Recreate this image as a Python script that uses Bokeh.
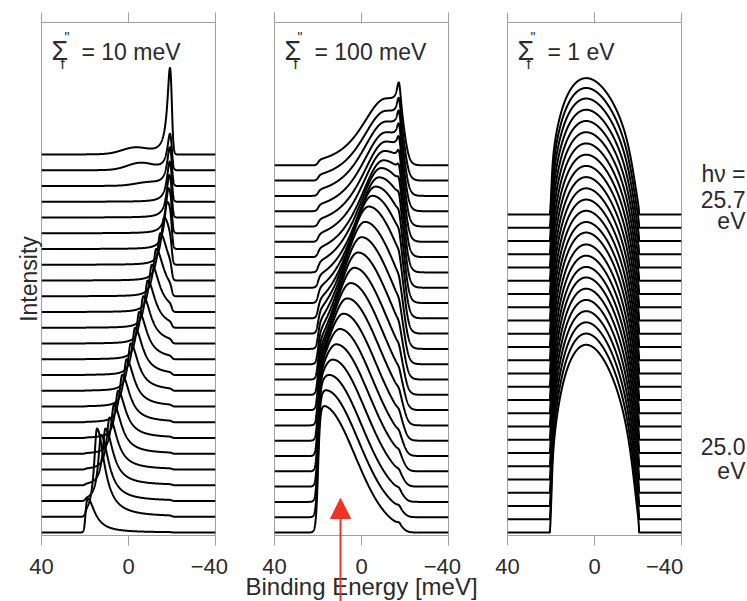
import numpy as np
from bokeh.plotting import figure
from bokeh.models import (Range1d, FixedTicker, Label, Arrow, NormalHead, ColumnDataSource,
                          LinearAxis)
from bokeh.layouts import row, column
from bokeh.embed import file_html
from bokeh.resources import INLINE

# ---------------- values ----------------
x_ticks = [40, 0, -40]
x_tick_labels = ["40", "0", "\u221240\u2007"]
panel_values = ["= 10 meV", "= 100 meV", "= 1 eV"]
hv_top_text = ["h\u03bd =", "25.7", "eV"]
hv_bottom_text = ["25.0", "eV"]
x_label = "Binding Energy [meV]"
y_label = "Intensity"
band_bottom_edge = 20.0     # meV (left cut-off)
band_top_edge = -20.0       # meV (right cut-off)

# panel 1, Sigma''_f = 10 meV  (first entry = lowest curve, 25.0 eV)
p1_peak_pos = [19.0, 14.5, 12.6, 10.6, 8.7, 6.7, 4.8, 2.9, 0.9, -1.0, -3.0, -4.9, -6.8,
               -8.8, -10.7, -12.7, -14.6, -16.4, -17.8, -18.5, -18.9, -19.1, -19.2, -19.3, -19.3]
p1_peak_height = [2.2, 5.6, 4.2, 3.6, 3.3, 3.1, 3.0, 3.0, 3.0, 3.0, 3.0, 3.0, 3.0,
                  3.0, 3.0, 3.0, 3.0, 3.0, 3.0, 2.9, 2.8, 2.7, 2.6, 2.5, 6.0]
p1_bump_pos = [0, 0, 0, 0, 0, 0, 0, 0, 0, 0, 0, 0, 0, 0, 0, 0, 0, 0, 0, 0, 0, 0, -9.0, -5.5, -3.0]
p1_bump_height = [0, 0, 0, 0, 0, 0, 0, 0, 0, 0, 0, 0, 0, 0, 0, 0, 0, 0, 0, 0, 0, 0, 0.2, 0.45, 0.4]

# panel 2, Sigma''_f = 100 meV
p2_hump_pos = [18.0, 16.5, 15.0, 13.3, 11.6, 10.0, 8.3, 6.6, 5.0, 3.3, 1.6, 0.0, -1.6,
               -3.3, -5.0, -6.5, -8.0, -9.0, -10.0, -10.5, -11.0, -11.0, -11.0, -11.0, -11.0]
p2_hump_height = [8.3, 8.3, 8.3, 8.3, 8.3, 8.3, 8.3, 8.3, 8.3, 8.3, 8.3, 8.3, 8.3,
                  8.3, 8.0, 7.6, 7.2, 6.8, 6.3, 5.9, 5.5, 5.1, 4.8, 4.5, 4.3]
p2_edge_height = [0.2, 0.2, 0.2, 0.2, 0.25, 0.25, 0.3, 0.3, 0.3, 0.35, 0.35, 0.4, 0.4,
                  0.5, 0.6, 0.7, 0.8, 0.9, 1.0, 1.2, 1.4, 1.6, 1.7, 1.8, 2.0]

# panel 3, Sigma''_f = 1 eV
p3_dome_height = [13.9, 13.75, 13.6, 13.45, 13.3, 13.15, 13.0, 12.8, 12.65, 12.5, 12.4, 12.2, 12.05,
                  11.9, 11.75, 11.6, 11.45, 11.3, 11.15, 11.0, 10.85, 10.7, 10.55, 10.35, 10.1]

# ---------------- line shapes ----------------
E = np.linspace(-40, 40, 1601)


def window(x, wl, wr):
    return 1.0 / (1.0 + np.exp((x - band_bottom_edge) / wl)) / (1.0 + np.exp(-(x - band_top_edge) / wr))


def asym_lorentz(x, c, g_left, g_right):
    g = np.where(x > c, g_left, g_right)
    return 1.0 / (1.0 + ((x - c) / g) ** 2)


def hump(x, c, g_left, s_right):
    left = (1.0 + (x - c) ** 2 / (2.0 * g_left ** 2)) ** -2
    right = np.exp(-0.5 * ((x - c) / s_right) ** 2)
    return np.where(x > c, left, right)


def dome(x):
    u = x / 20.5
    return np.sqrt(np.clip(1 - u ** 2, 0, None)) * (1 + 0.2 * u)


def panel1_curves():
    xs, ys = [], []
    w = window(E, 0.35, 0.35)
    for i, (c, h, bc, bh) in enumerate(zip(p1_peak_pos, p1_peak_height, p1_bump_pos, p1_bump_height)):
        y = w * (h * asym_lorentz(E, c, 1.6, 4.2) + bh * np.exp(-0.5 * ((E - bc) / 6.0) ** 2))
        xs.append(E)
        ys.append(y + i)
    return xs, ys


def panel2_curves():
    xs, ys = [], []
    w = window(E, 0.5, 1.2)
    for i, (c, h, s) in enumerate(zip(p2_hump_pos, p2_hump_height, p2_edge_height)):
        y = w * (h * hump(E, c, 14.0, 15.0) + s * asym_lorentz(E, -17.3, 1.2, 1.2))
        xs.append(E)
        ys.append(y + i)
    return xs, ys


def panel3_curves():
    xs, ys = [], []
    w = window(E, 0.3, 1.8)
    for i, h in enumerate(p3_dome_height):
        y = w * h * dome(E)
        xs.append(E)
        ys.append(y + i)
    return xs, ys


# ---------------- layout ----------------
FRAME_W = 174
FRAME_TOP, FRAME_BOTTOM, BASE0, H = 22, 535, 532, 601
TEXT = "#2a2a2a"
GRAY = "#a0a0a0"
FONT = "Liberation Sans"
spacing = [15.75, 15.3, 13.25]
fig_specs = [(240, 41, 25), (238, 34, 30), (217, 29, 14)]
curve_funcs = [panel1_curves, panel2_curves, panel3_curves]


def style_tick_axis(ax):
    ax.ticker = FixedTicker(ticks=x_ticks)
    ax.major_label_overrides = dict(zip(x_ticks, x_tick_labels))
    ax.major_tick_line_color = GRAY
    ax.major_tick_out = 10
    ax.major_tick_in = 0
    ax.minor_tick_line_color = None
    ax.axis_line_color = None
    ax.major_label_text_font = FONT
    ax.major_label_text_font_size = "22px"
    ax.major_label_text_color = TEXT
    ax.major_label_standoff = 8


figs = []
for k in range(3):
    width, bl, br = fig_specs[k]
    s = spacing[k]
    p = figure(width=width, height=H,
               x_range=Range1d(40, -40),
               y_range=Range1d(-(FRAME_BOTTOM - BASE0) / s, (BASE0 - FRAME_TOP) / s),
               min_border_left=bl, min_border_right=br, min_border_top=FRAME_TOP,
               min_border_bottom=H - FRAME_BOTTOM,
               y_axis_location="left" if k == 0 else None,
               x_axis_location="below",
               output_backend="svg", toolbar_location=None)
    p.grid.visible = False
    p.background_fill_color = "white"
    p.border_fill_color = "white"
    p.outline_line_color = GRAY
    p.outline_line_width = 1

    style_tick_axis(p.xaxis[0])
    top = LinearAxis()
    style_tick_axis(top)
    top.major_label_text_color = None
    top.major_label_text_font_size = "0px"
    top.major_label_standoff = 0
    p.add_layout(top, "above")

    if k == 0:
        ya = p.yaxis[0]
        ya.ticker = FixedTicker(ticks=[])
        ya.major_tick_line_color = None
        ya.minor_tick_line_color = None
        ya.major_label_text_color = None
        ya.major_label_text_font_size = "0px"
        ya.major_label_standoff = 0
        ya.major_tick_out = 0
        ya.axis_line_color = None
        ya.axis_label = y_label
        ya.axis_label_text_font = FONT
        ya.axis_label_text_font_size = "23px"
        ya.axis_label_text_font_style = "normal"
        ya.axis_label_text_color = TEXT
        ya.axis_label_standoff = 0

    xs, ys = curve_funcs[k]()
    src = ColumnDataSource(dict(xs=xs, ys=ys))
    p.multi_line("xs", "ys", source=src, line_color="black", line_width=2.0)

    def px2x(px):
        return 40 - (px - bl) * 80.0 / FRAME_W

    def py2y(py):
        return (BASE0 - py) / s

    # Sigma''_f label
    p.add_layout(Label(x=px2x(bl + 10), y=py2y(50), text="\u03a3", text_font=FONT,
                       text_font_size="27px", text_color=TEXT, text_baseline="alphabetic"))
    p.add_layout(Label(x=px2x(bl + 23), y=py2y(36), text='"', text_font=FONT,
                       text_font_size="14px", text_color=TEXT, text_baseline="alphabetic"))
    p.add_layout(Label(x=px2x(bl + 19), y=py2y(63), text="f", text_font=FONT,
                       text_font_size="15px", text_color=TEXT, text_baseline="alphabetic"))
    p.add_layout(Label(x=px2x(bl + 40), y=py2y(51), text=panel_values[k], text_font=FONT,
                       text_font_size="23px", text_color=TEXT, text_baseline="alphabetic"))
    figs.append(p)

# right-hand photon-energy labels
side_left = sum(w for w, _, _ in fig_specs)
side_w = 747 - side_left
side = figure(width=side_w, height=H, x_range=Range1d(0, side_w), y_range=Range1d(H, 0),
              min_border=0, x_axis_location=None, y_axis_location=None,
              output_backend="svg", toolbar_location=None)
side.grid.visible = False
side.outline_line_color = None
for txt, py in zip(hv_top_text + hv_bottom_text, [177, 207, 233, 497, 525]):
    side.add_layout(Label(x=745 - side_left, y=py, text=txt, text_font=FONT,
                          text_font_size="23px", text_color=TEXT, text_align="right",
                          text_baseline="alphabetic"))
figs.append(side)

# transparent overlay under the middle panel: axis title and the red arrow
ov_left, ov_w, ov_top = 240, 238, 498
ov_h = H - ov_top
overlay = figure(width=ov_w, height=ov_h, x_range=Range1d(ov_left, ov_left + ov_w),
                 y_range=Range1d(H, ov_top), min_border=0, x_axis_location=None,
                 y_axis_location=None, output_backend="svg", toolbar_location=None,
                 margin=(-ov_h, 0, 0, ov_left))
overlay.grid.visible = False
overlay.outline_line_color = None
overlay.background_fill_color = None
overlay.border_fill_color = None
overlay.add_layout(Label(x=361, y=586, text=x_label, text_font=FONT, text_font_size="24px",
                         text_color=TEXT, text_align="center", text_baseline="alphabetic"))
red = "#ee3524"
overlay.add_layout(Arrow(end=NormalHead(size=20, fill_color=red, line_color=red),
                         x_start=340, y_start=H + 2, x_end=340, y_end=498,
                         line_color=red, line_width=2))

layout = column(row(*figs), overlay)
open("out.html", "w").write(file_html(layout, INLINE))
